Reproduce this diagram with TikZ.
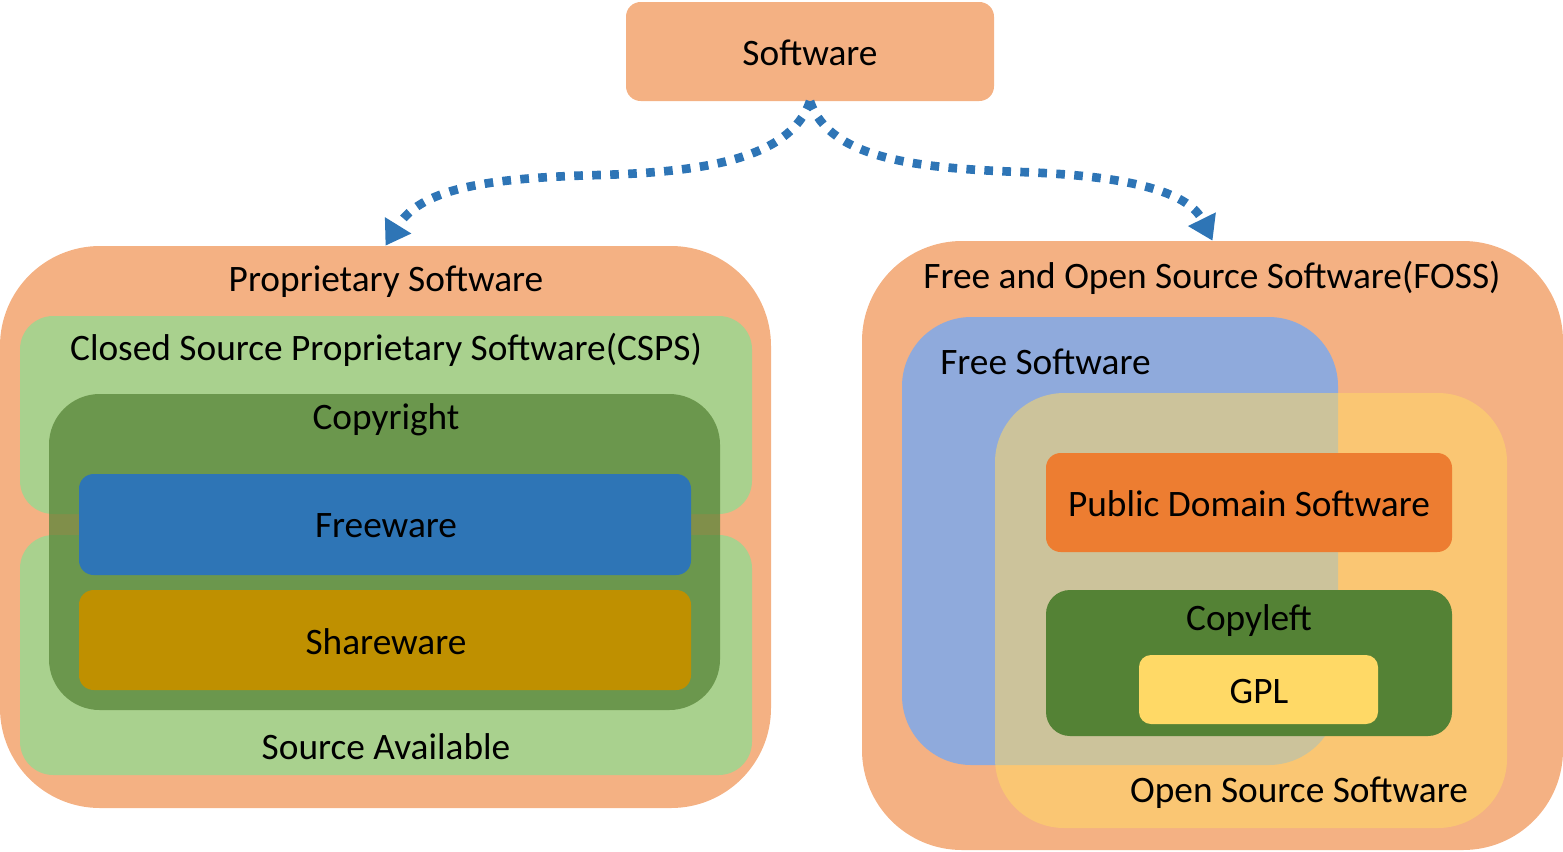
\documentclass[tikz,border=0pt]{standalone}
\usepackage{fontspec}
\setmainfont{Carlito}
\usetikzlibrary{fit,arrows.meta}
\definecolor{orangeL}{HTML}{F4B183}
\definecolor{greenL}{HTML}{A9D18E}
\definecolor{greenD}{HTML}{548235}
\definecolor{blueD}{HTML}{2E75B6}
\definecolor{gold}{HTML}{BF9000}
\definecolor{blueL}{HTML}{8FAADC}
\definecolor{yellowL}{HTML}{FFD966}
\definecolor{orangeD}{HTML}{ED7D31}
\begin{document}
\begin{tikzpicture}[x=0.75pt,y=-0.75pt,
  box/.style={inner sep=0pt, draw=none},
  lbl/.style={font=\fontsize{28pt}{32pt}\selectfont, text=black, inner sep=0pt},
  conn/.style={draw=blueD, line width=6.5pt, dash pattern=on 6.5pt off 7pt,
    -{Triangle[length=18pt,width=22pt]}}]
\useasboundingbox (0,0) rectangle (1563,851);

% top
\node[box, fill=orangeL, rounded corners=11pt, fit={(626,2)(994,101)}] (sw) {};
\node[lbl] (swl) at (810,53) {Software};

% left group
\node[box, fill=orangeL, rounded corners=75pt, fit={(0,246)(771,808)}] (prop) {};
\node[box, fill=greenL, rounded corners=25pt, fit={(20,316)(752,514)}] (csps) {};
\node[box, fill=greenL, rounded corners=25pt, fit={(20,535)(752,775)}] (srca) {};
\node[box, fill=greenD, fill opacity=0.72, rounded corners=38pt, fit={(49,394)(720,710)}] (copyr) {};
\node[box, fill=blueD, rounded corners=11pt, fit={(79,474)(691,575)}] (free) {};
\node[box, fill=gold, rounded corners=11pt, fit={(79,590)(691,690)}] (share) {};
\node[lbl] (propl) at (386,282) {Proprietary Software};
\node[lbl] (cspsl) at (386,350) {Closed Source Proprietary Software(CSPS)};
\node[lbl] (copyrl) at (386,420) {Copyright};
\node[lbl] (freel) at (386,526) {Freeware};
\node[lbl] (sharel) at (386,642) {Shareware};
\node[lbl] (srcal) at (386,747) {Source Available};

% right group
\node[box, fill=orangeL, rounded corners=75pt, fit={(862,241)(1563,850)}] (foss) {};
\node[box, fill=blueL, rounded corners=52pt, fit={(902,317)(1338,765)}] (fs) {};
\node[box, fill=yellowL, fill opacity=0.55, rounded corners=52pt, fit={(995,393)(1507,828)}] (oss) {};
\node[box, fill=orangeD, rounded corners=11pt, fit={(1046,453)(1452,552)}] (pd) {};
\node[box, fill=greenD, rounded corners=18pt, fit={(1046,590)(1452,736)}] (cl) {};
\node[box, fill=yellowL, rounded corners=9pt, fit={(1139,655)(1378,724)}] (gpl) {};
\node[lbl] (fossl) at (1212,278) {Free and Open Source Software(FOSS)};
\node[lbl, anchor=west] (fsl) at (940,362) {Free Software};
\node[lbl] (pdl) at (1249,504) {Public Domain Software};
\node[lbl] (cll) at (1249,621) {Copyleft};
\node[lbl] (gpll) at (1259,691) {GPL};
\node[lbl] (ossl) at (1299,793) {Open Source Software};

% connectors
\draw[conn] (sw.south) .. controls (790,160) and (700,172) .. (600,175)
  .. controls (480,178) and (420,190) .. (prop.north);
\draw[conn] (sw.south) .. controls (830,160) and (920,168) .. (1020,172)
  .. controls (1140,176) and (1190,195) .. (foss.north);
\end{tikzpicture}
\end{document}
